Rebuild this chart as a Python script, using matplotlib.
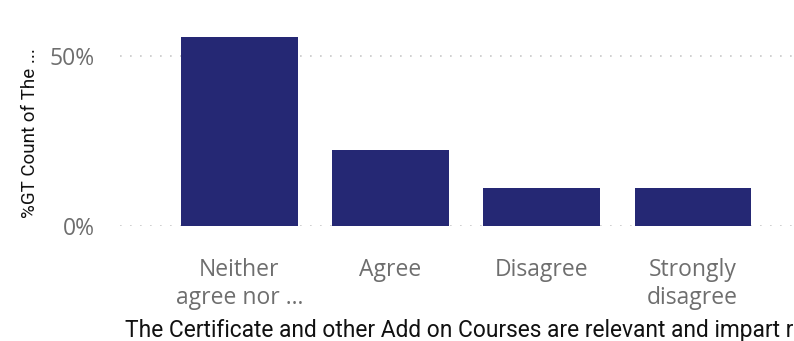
import matplotlib
matplotlib.use("Agg")
import matplotlib.pyplot as plt

categories = ["Neither\nagree nor ...", "Agree", "Disagree", "Strongly\ndisagree"]
values = [5/9, 2/9, 1/9, 1/9]
yticks = [0.0, 0.5]
ytick_labels = ["0%", "50%"]
x_title = "The Certificate and other Add on Courses are relevant and impart r"
y_title = "%GT Count of The ..."

W, H = 794, 341
fig = plt.figure(figsize=(W/100, H/100), dpi=100)
ax = fig.add_axes([120/W, (H-226)/H, (W-120)/W, 204/H])

bar_color = "#252874"
x = list(range(len(categories)))
ax.bar(x, values, width=0.77, color=bar_color, zorder=3)

ax.set_xlim(-0.79, 3.67)
ax.set_ylim(0, 0.6)
ax.set_yticks(yticks)
ax.set_yticklabels(ytick_labels)
ax.set_xticks(x)
ax.set_xticklabels(categories, linespacing=1.2)

for s in ax.spines.values():
    s.set_visible(False)
ax.tick_params(axis="both", length=0)
ax.tick_params(axis="y", pad=18, labelsize=16.5, labelcolor="#6E6E6E")
ax.tick_params(axis="x", pad=23, labelsize=16.5, labelcolor="#6E6E6E")
for lab in ax.get_xticklabels() + ax.get_yticklabels():
    lab.set_family("Open Sans")

ax.grid(axis="y", color="#C8C8C8", linestyle=(0, (1, 5)), linewidth=1.2, zorder=0)
ax.set_axisbelow(True)

fig.text(125/W, 1 - 330/H, x_title, ha="left", va="center", fontsize=16.4,
         family="Roboto", color="#111111")
fig.text(30/W, 1 - 133/H, y_title, ha="center", va="center", rotation=90,
         fontsize=13.5, family="Roboto", color="#111111")

fig.savefig("out.png", dpi=100)
